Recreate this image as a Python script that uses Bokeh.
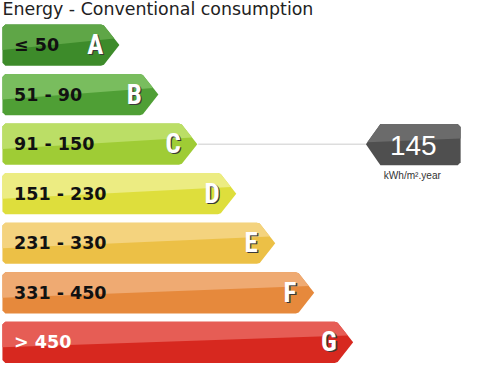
from bokeh.plotting import figure
from bokeh.models import Range1d, ColumnDataSource
from bokeh.core.properties import value
from bokeh.embed import file_html
from bokeh.resources import INLINE

# ---- data ----
title = "Energy - Conventional consumption"
classes = ["A", "B", "C", "D", "E", "F", "G"]
ranges = ["\u2264 50", "51 - 90", "91 - 150", "151 - 230", "231 - 330", "331 - 450", "> 450"]
dark_colors = ["#3d8b2a", "#4f9f35", "#9fcc35", "#dede3c", "#ecc046", "#e6893c", "#d7281f"]
light_colors = ["#5fa647", "#79bd5e", "#bbde66", "#ecec82", "#f4d37e", "#efaa72", "#e65d55"]
label_colors = ["#111111"] * 6 + ["#ffffff"]
rating = "C"
consumption = 145
unit = "kWh/m\u00b2.year"

# ---- layout constants (reference pixel space) ----
X0 = 2.0
TOP0 = 25.0
STEP_Y = 51.7
BAR_H = 43.0
TIP0 = 123.0
STEP_X = 40.3
ARROW = 16.0
CH = 3.0  # corner chamfer
F = 0.96  # font scale

p = figure(width=464, height=368, output_backend="svg", toolbar_location=None,
           x_range=Range1d(0, 480), y_range=Range1d(384, 0), min_border=0,
           outline_line_color=None, background_fill_color="white")
p.axis.visible = False
p.grid.visible = False


def clip_above(poly, a, b):
    # keep part of polygon with y <= line through a,b (screen y grows downward)
    def side(pt):
        (x1, y1), (x2, y2) = a, b
        yl = y1 + (y2 - y1) * (pt[0] - x1) / (x2 - x1)
        return pt[1] - yl
    out = []
    n = len(poly)
    for i in range(n):
        cur, nxt = poly[i], poly[(i + 1) % n]
        sc, sn = side(cur), side(nxt)
        if sc <= 0:
            out.append(cur)
        if (sc <= 0) != (sn <= 0):
            t = sc / (sc - sn)
            out.append((cur[0] + t * (nxt[0] - cur[0]), cur[1] + t * (nxt[1] - cur[1])))
    return out


base_xs, base_ys, hl_xs, hl_ys = [], [], [], []
lab_x, lab_y, let_x = [], [], []
tips, mids = [], []
for i, c in enumerate(classes):
    top = TOP0 + i * STEP_Y
    bot = top + BAR_H
    mid = (top + bot) / 2
    tip = TIP0 + i * STEP_X
    start = tip - ARROW
    poly = [(X0 + CH, top), (start - CH, top), (start, top + 1), (tip, mid),
            (start, bot - 1), (start - CH, bot), (X0 + CH, bot), (X0, bot - CH),
            (X0, top + CH)]
    base_xs.append([q[0] for q in poly]); base_ys.append([q[1] for q in poly])
    hl = clip_above(poly, (X0, top + 0.62 * BAR_H), (tip, top + 0.33 * BAR_H))
    hl_xs.append([q[0] for q in hl]); hl_ys.append([q[1] for q in hl])
    tips.append(tip); mids.append(mid)
    lab_x.append(14.0); lab_y.append(mid); let_x.append(tip - 25)

p.patches(base_xs, base_ys, fill_color=dark_colors, line_color=None)
p.patches(hl_xs, hl_ys, fill_color=light_colors, line_color=None)

src = ColumnDataSource(dict(x=lab_x, y=lab_y, t=ranges, c=label_colors,
                            lx=let_x, l=classes,
                            sx=[v + 1.4 for v in let_x], sy=[v + 1.2 for v in lab_y]))
p.text("x", "y", text="t", source=src, text_color="c", text_font=value("DejaVu Sans"),
       text_font_style="bold", text_font_size="17.5px", text_baseline="middle")
letter_font = value("Roboto Condensed")
p.text("sx", "sy", text="l", source=src, text_color="#3a3a3a", text_font=letter_font,
       text_font_style="bold", text_font_size=f"{28*F:.1f}px", text_baseline="middle",
       text_align="center")
p.text("lx", "y", text="l", source=src, text_color="#ffffff", text_font=letter_font,
       text_font_style="bold", text_font_size=f"{28*F:.1f}px", text_baseline="middle",
       text_align="center")

# title
p.text([2], [9], text=[title], text_font=value("DejaVu Sans"), text_color="#222222",
       text_font_size="17.4px", text_baseline="middle")

# value marker
ri = classes.index(rating)
my = mids[ri]
mtop, mbot = my - 21, my + 22
mtip, mstart, mright = 378.0, 393.0, 476.0
p.line([tips[ri] + 1, mtip], [my, my], line_color="#dddddd", line_width=1.5)
mpoly = [(mtip, my), (mstart, mtop), (mright - 3, mtop), (mright, mtop + 3),
         (mright, mbot - 3), (mright - 3, mbot), (mstart, mbot)]
p.patch([q[0] for q in mpoly], [q[1] for q in mpoly], fill_color="#4f4f4f", line_color=None)
mhl = clip_above(mpoly, (mtip, my - 2), (mright, my - 6))
p.patch([q[0] for q in mhl], [q[1] for q in mhl], fill_color="#6b6b6b", line_color=None)
p.text([427], [my + 1], text=[str(consumption)], text_font=value("Liberation Sans"),
       text_color="#ffffff", text_font_size="28px", text_baseline="middle",
       text_align="center")
p.text([426], [mbot + 11], text=[unit], text_font=value("Liberation Sans"),
       text_color="#333333", text_font_size=f"{10.5*F:.1f}px", text_baseline="middle",
       text_align="center")

open("out.html", "w").write(file_html(p, INLINE))
